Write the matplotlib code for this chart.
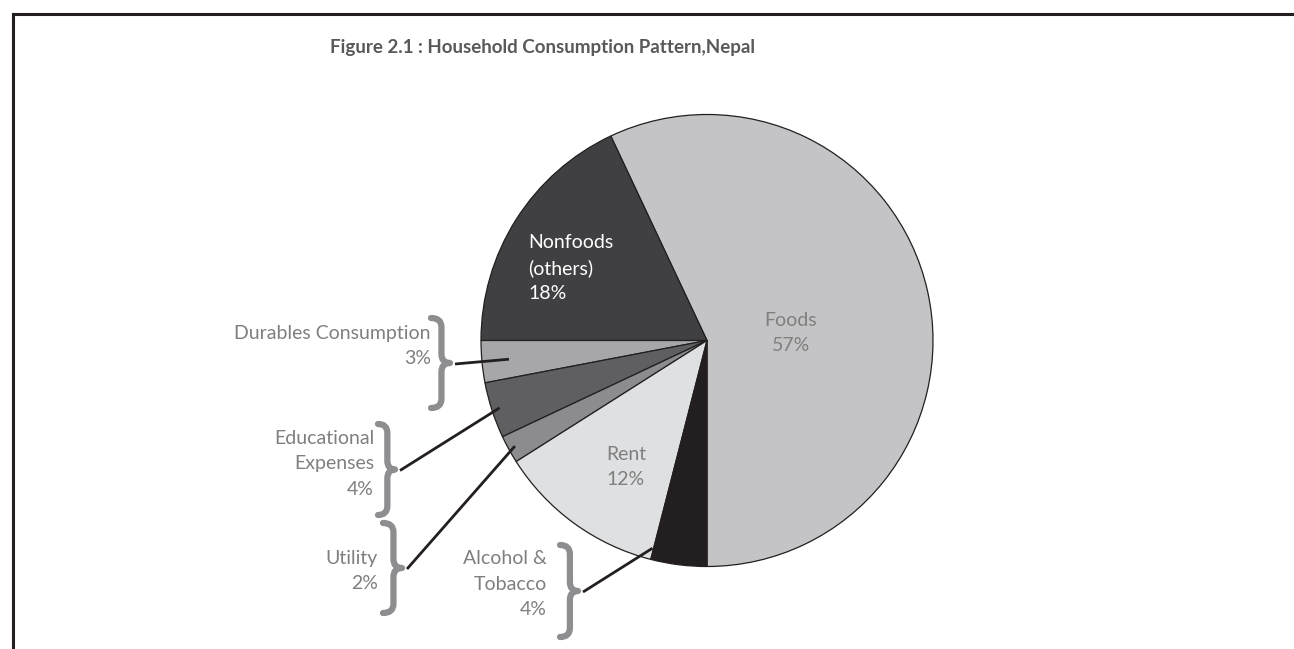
import matplotlib.pyplot as plt
from matplotlib.path import Path
from matplotlib.patches import PathPatch
import numpy as np

W, H = 1294, 649

categories = ["Foods", "Nonfoods\n(others)", "Durables Consumption", "Educational\nExpenses",
              "Utility", "Rent", "Alcohol &\nTobacco"]
shares = [57, 18, 3, 4, 2, 12, 4]
colors = ["#c4c4c6", "#404043", "#a7a7aa", "#5f5f62", "#8c8c8f", "#dfe0e2", "#231f20"]

title = "Figure 2.1 : Household Consumption Pattern,Nepal"
font = "Lato"
grey_txt = "#7f7f7f"
brace_col = "#8e8e90"
fs = 14
ls = 1.58

fig = plt.figure(figsize=(W / 100, H / 100), dpi=100)
ax = fig.add_axes([0, 0, 1, 1])


def py(y):
    # pixel row (top-down) -> data y
    return H - y


cx, cy, R = 707, 340.5, 226
wedges, _ = ax.pie(shares, colors=colors, startangle=-90, counterclock=True,
                   center=(cx, py(cy)), radius=R,
                   wedgeprops=dict(edgecolor="#231f20", linewidth=0.9))
ax.set_xlim(0, W)
ax.set_ylim(0, H)
ax.set_aspect("equal")
ax.axis("off")


def pct(i):
    return f"{shares[i]}%"


# labels inside the pie
ax.text(791, py(333), f"{categories[0]}\n{pct(0)}", ha="center", va="center",
        color=grey_txt, fontsize=fs, family=font, linespacing=ls)
ax.text(528, py(268), f"{categories[1]}\n{pct(1)}", ha="left", va="center",
        color="white", fontsize=fs, family=font, linespacing=ls)
ax.text(626, py(467), f"{categories[5]}\n{pct(5)}", ha="center", va="center",
        color=grey_txt, fontsize=fs, family=font, linespacing=ls)


def brace(x, top, bottom, w):
    mid = (top + bottom) / 2
    r = 9
    xs = x + w * 0.55
    verts = [(x, top), (xs, top), (xs, top + r),
             (xs, mid - r), (xs, mid), (x + w, mid),
             (xs, mid), (xs, mid + r),
             (xs, bottom - r), (xs, bottom), (x, bottom)]
    codes = [Path.MOVETO, Path.CURVE3, Path.CURVE3,
             Path.LINETO, Path.CURVE3, Path.CURVE3,
             Path.CURVE3, Path.CURVE3,
             Path.LINETO, Path.CURVE3, Path.CURVE3]
    verts = [(vx, py(vy)) for vx, vy in verts]
    ax.add_patch(PathPatch(Path(verts, codes), fill=False, edgecolor=brace_col,
                           lw=4.5, capstyle="round", joinstyle="round"))
    return x + w, mid


def wedge_point(i, frac, dang=0.0):
    wd = wedges[i]
    ang = np.deg2rad((wd.theta1 + wd.theta2) / 2 + dang)
    return cx + frac * R * np.cos(ang), cy - frac * R * np.sin(ang)


# outside labels: index, text right edge, block centre y, brace box, leader anchor
outside = [
    (2, 431, 346, (431, 318, 408, 19), 0.88, 0.0),
    (3, 374, 464, (378, 424, 515, 17), 0.965, 0.0),
    (4, 378, 571, (383, 523, 613, 19), 0.97, 0.0),
    (6, 547, 584, (560, 545, 637, 18), 0.95, -7.5),
]
for i, xr, yc, (bx, bt, bb, bw), frac, dang in outside:
    ax.text(xr, py(yc), f"{categories[i]}\n{pct(i)}", ha="right", va="center",
            color=grey_txt, fontsize=fs, family=font, linespacing=ls)
    tx, ty = brace(bx, bt, bb, bw)
    ex, ey = wedge_point(i, frac, dang)
    ax.plot([tx + 5, ex], [py(ty + 1), py(ey)], color="#231f20", lw=2,
            solid_capstyle="butt")

fig.text(542 / W, 1 - 47 / H, title, ha="center", va="center", fontsize=13.5,
         fontweight="bold", color="#595959", family=font)

# frame lines along the top and left edge
fig.add_artist(plt.Line2D([13 / W, 1], [1 - 14 / H] * 2, color="#231f20", lw=2.2,
                          transform=fig.transFigure))
fig.add_artist(plt.Line2D([13 / W, 13 / W], [0, 1 - 14 / H], color="#231f20", lw=2.2,
                          transform=fig.transFigure))

fig.savefig("out.png", dpi=100)
